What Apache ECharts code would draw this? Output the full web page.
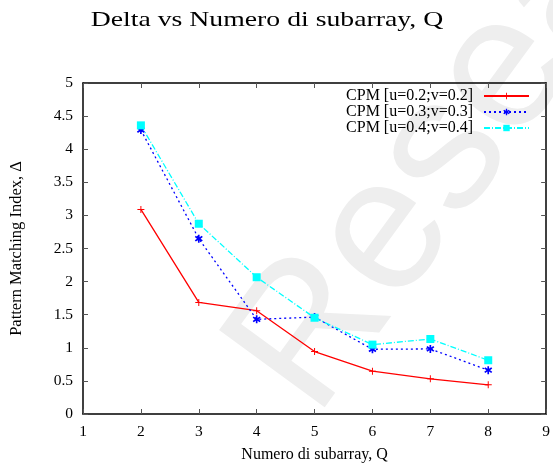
<!DOCTYPE html>
<html>
<head>
<meta charset="utf-8">
<script src="https://cdn.jsdelivr.net/npm/echarts@6/dist/echarts.min.js"></script>
<style>
  html, body { margin: 0; padding: 0; background: #fff; }
  #chart { width: 553px; height: 468px; }
</style>
</head>
<body>
<div id="chart"></div>
<script>
// Number of subarrays Q
const subarrays = [2, 3, 4, 5, 6, 7, 8];

// Pattern matching index for each CPM setting
const cpm02 = [3.09, 1.685, 1.56, 0.943, 0.647, 0.532, 0.441];
const cpm03 = [4.29, 2.648, 1.43, 1.464, 0.978, 0.983, 0.662];
const cpm04 = [4.36, 2.874, 2.066, 1.454, 1.048, 1.133, 0.812];

const seriesNames = ['CPM [u=0.2;v=0.2]', 'CPM [u=0.3;v=0.3]', 'CPM [u=0.4;v=0.4]'];

const titleText = 'Delta vs Numero di subarray, Q';
const xAxisTitle = 'Numero di subarray, Q';
const yAxisTitle = 'Pattern Matching Index, \u0394';

const pairs = ys => subarrays.map((q, i) => [q, ys[i]]);

const serif = '"Liberation Serif", "Times New Roman", serif';

// marker shapes
const plusMark = 'path://M4.3,0H5.7V4.3H10V5.7H5.7V10H4.3V5.7H0V4.3H4.3Z';
const starMark = 'path://M4,0H6V3.2L8.6,1.4L9.8,3L7.2,5L9.8,7L8.6,8.6L6,6.8V10H4V6.8L1.4,8.6L0.2,7L2.8,5L0.2,3L1.4,1.4L4,3.2Z';

const chart = echarts.init(document.getElementById('chart'), null, { renderer: 'canvas' });

const tickStyle = { show: true, inside: true, length: 5, lineStyle: { color: '#555', width: 1 } };
const lineAxis = { show: true, onZero: false, lineStyle: { color: '#000', width: 1.5 } };

chart.setOption({
  backgroundColor: '#fff',
  animation: false,
  graphic: [{
    // faint diagonal watermark behind the plot
    type: 'text',
    x: 350,
    y: 445,
    rotation: 0.94,
    z: -10,
    silent: true,
    style: {
      text: 'Research',
      font: '190px "Liberation Sans", sans-serif',
      fill: '#eeeeee',
      verticalAlign: 'bottom'
    }
  }, {
    // wide serif heading, stretched horizontally
    type: 'text',
    x: 267,
    y: 20,
    scaleX: 1.29,
    scaleY: 1,
    silent: true,
    style: {
      text: titleText,
      font: '21.5px "Liberation Serif", serif',
      fill: '#000',
      align: 'center',
      verticalAlign: 'middle'
    }
  }],
  legend: {
    orient: 'vertical',
    right: 18,
    top: 83,
    align: 'right',
    itemWidth: 45,
    itemHeight: 8,
    itemGap: 0,
    textStyle: { fontFamily: serif, fontSize: 16, color: '#000', padding: [0, 6, 0, 0] },
    data: seriesNames
  },
  grid: { left: 83, right: 6, top: 83, bottom: 53 },
  xAxis: [{
    type: 'value',
    min: 1, max: 9, interval: 1,
    name: xAxisTitle,
    nameLocation: 'middle',
    nameGap: 33,
    nameTextStyle: { fontFamily: serif, fontSize: 16, color: '#000' },
    axisLine: lineAxis,
    axisTick: tickStyle,
    axisLabel: { fontFamily: serif, fontSize: 15.5, color: '#000', margin: 10 },
    splitLine: { show: false }
  }, {
    type: 'value', position: 'top',
    min: 1, max: 9, interval: 1,
    axisLine: lineAxis,
    axisTick: tickStyle,
    axisLabel: { show: false },
    splitLine: { show: false }
  }],
  yAxis: [{
    type: 'value',
    min: 0, max: 5, interval: 0.5,
    name: yAxisTitle,
    nameLocation: 'middle',
    nameGap: 58,
    nameTextStyle: { fontFamily: serif, fontSize: 16.5, color: '#000' },
    axisLine: lineAxis,
    axisTick: tickStyle,
    axisLabel: { fontFamily: serif, fontSize: 15.5, color: '#000', margin: 10 },
    splitLine: { show: false }
  }, {
    type: 'value', position: 'right',
    min: 0, max: 5, interval: 0.5,
    axisLine: lineAxis,
    axisTick: tickStyle,
    axisLabel: { show: false },
    splitLine: { show: false }
  }],
  series: [{
    name: seriesNames[0],
    type: 'line',
    data: pairs(cpm02),
    symbol: plusMark,
    symbolSize: 7,
    itemStyle: { color: '#ff0000' },
    lineStyle: { color: '#ff0000', width: 1.3, type: 'solid' }
  }, {
    name: seriesNames[1],
    type: 'line',
    data: pairs(cpm03),
    symbol: starMark,
    symbolSize: 8,
    itemStyle: { color: '#0000ff' },
    lineStyle: { color: '#0000ff', width: 1.3, type: [2, 3] }
  }, {
    name: seriesNames[2],
    type: 'line',
    data: pairs(cpm04),
    symbol: 'rect',
    symbolSize: 8,
    itemStyle: { color: '#00ffff' },
    lineStyle: { color: '#00ffff', width: 1.3, type: [6, 2, 1, 2] }
  }]
});
</script>
</body>
</html>
